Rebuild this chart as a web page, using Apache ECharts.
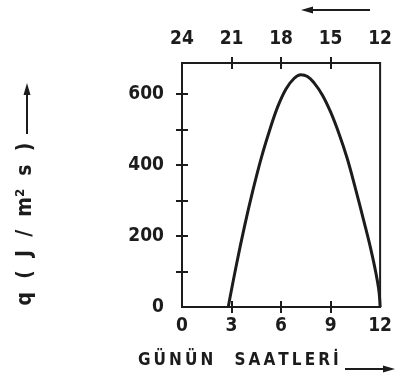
<!DOCTYPE html>
<html>
<head>
<meta charset="utf-8">
<script src="https://cdn.jsdelivr.net/npm/echarts@6/dist/echarts.min.js"></script>
<style>
  html, body { margin: 0; padding: 0; background: #fff; }
  #chart { width: 395px; height: 381px; }
</style>
</head>
<body>
<div id="chart"></div>
<script>
// saat (0-12) ve isi akisi q
const hours = [2.8, 3.3, 3.8, 4.3, 4.8, 5.3, 5.8, 6.3, 6.8, 7.2, 7.6, 8.0, 8.5, 9.0, 9.5, 10.0, 10.5, 11.0, 11.5, 11.9, 12];
const qValues = [0, 120, 230, 330, 420, 497, 565, 615, 645, 655, 650, 632, 598, 550, 490, 420, 335, 245, 150, 55, 0];

const bottomTicks = [3, 6, 9];
const topTicks = [15, 18, 21];
const yLabelValues = [0, 200, 400, 600];
const yTickValues = [100, 200, 300, 400, 500, 600];

const yTitleParts = ['q', '(', 'J', '/', 'm\u00B2', 's', ')'];
const xTitleWords = ['GÜNÜN', 'SAATLERİ'];

const ink = '#1c1c1c';
const font = 'DejaVu Sans Condensed';

const chart = echarts.init(document.getElementById('chart'), null, { renderer: 'canvas' });

function xAxisDef(pos, inside, labels) {
  const top = pos === 'top';
  return {
    type: 'value',
    position: pos,
    min: top ? 12 : 0,
    max: top ? 24 : 12,
    inverse: top,
    interval: 3,
    axisLine: { show: false },
    splitLine: { show: false },
    axisTick: {
      show: true,
      inside: inside,
      length: 6,
      customValues: top ? topTicks : bottomTicks,
      lineStyle: { color: ink, width: 2 }
    },
    axisLabel: {
      show: labels,
      margin: top ? 14 : 10,
      color: ink,
      fontFamily: font,
      fontWeight: 'bold',
      fontSize: 19
    }
  };
}

function yAxisDef(inside, labels) {
  return {
    type: 'value',
    position: 'left',
    min: 0,
    max: 688,
    axisLine: { show: false },
    splitLine: { show: false },
    axisTick: {
      show: true,
      inside: inside,
      length: 6,
      customValues: yTickValues,
      lineStyle: { color: ink, width: 2 }
    },
    axisLabel: {
      show: labels,
      customValues: yLabelValues,
      margin: 18,
      color: ink,
      fontFamily: font,
      fontWeight: 'bold',
      fontSize: 19
    }
  };
}

chart.setOption({
  animation: false,
  backgroundColor: '#fff',
  grid: {
    left: 182, right: 11, top: 63, bottom: 74,
    show: true,
    borderColor: ink,
    borderWidth: 2
  },
  xAxis: [
    xAxisDef('bottom', false, true),
    xAxisDef('bottom', true, false),
    xAxisDef('top', false, true),
    xAxisDef('top', true, false)
  ],
  yAxis: [
    yAxisDef(false, true),
    yAxisDef(true, false)
  ],
  series: [{
    type: 'line',
    xAxisIndex: 0,
    yAxisIndex: 0,
    data: hours.map((h, i) => [h, qValues[i]]),
    smooth: 0.4,
    symbol: 'none',
    lineStyle: { color: ink, width: 3 }
  }],
  graphic: [
    // y ekseni basligi
    {
      type: 'text',
      x: 26, y: 224,
      rotation: Math.PI / 2,
      style: {
        text: yTitleParts.join('  '),
        fill: ink,
        font: 'bold 21px "' + font + '"',
        align: 'center',
        verticalAlign: 'middle'
      }
    },
    { type: 'line', shape: { x1: 27, y1: 134, x2: 27, y2: 92 }, style: { stroke: ink, lineWidth: 2 } },
    { type: 'polygon', shape: { points: [[27, 83], [23.5, 95], [30.5, 95]] }, style: { fill: ink } },
    // ust ok
    { type: 'line', shape: { x1: 370, y1: 10, x2: 310, y2: 10 }, style: { stroke: ink, lineWidth: 2 } },
    { type: 'polygon', shape: { points: [[301, 10], [313, 6.5], [313, 13.5]] }, style: { fill: ink } },
    // x ekseni basligi
    {
      type: 'text',
      x: 138, y: 361,
      style: {
        text: xTitleWords.map(w => w.split('').join('\u2009')).join('    '),
        fill: ink,
        font: 'bold 17px "' + font + '"',
        align: 'left',
        verticalAlign: 'middle'
      }
    },
    { type: 'line', shape: { x1: 345, y1: 369, x2: 385, y2: 369 }, style: { stroke: ink, lineWidth: 2 } },
    { type: 'polygon', shape: { points: [[395, 369], [383, 365.5], [383, 372.5]] }, style: { fill: ink } }
  ]
});
</script>
</body>
</html>
